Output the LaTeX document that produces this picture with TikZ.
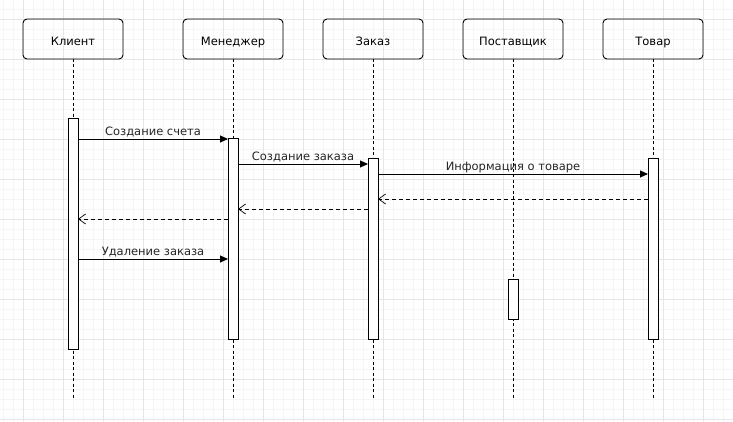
\documentclass[tikz,border=0pt]{standalone}
\usepackage{fontspec}
\setmainfont{DejaVu Sans}
\usetikzlibrary{arrows.meta, positioning}

\definecolor{minorgrid}{HTML}{F5F5F5}
\definecolor{majorgrid}{HTML}{E6E6E6}

\begin{document}
\begin{tikzpicture}[x=1pt, y=-1pt]
	\tikzset{node distance=40pt, font=\fontsize{11.5}{14}\selectfont,
		actor/.style={draw, rounded corners=4pt, minimum width=100pt, minimum height=40pt, outer sep=0pt, line width=0.9pt, text height=13pt, text depth=0pt},
		lifeline/.style={dashed, dash pattern=on 3pt off 2.5pt, line width=0.9pt},
		bar/.style={draw, fill=white, minimum width=10pt, inner sep=0pt, outer sep=0pt, line width=1pt, anchor=north},
		call/.style={-{Triangle[length=8pt, width=7pt]}, line width=0.9pt},
		reply/.style={-{Straight Barb[length=7pt, width=10pt, line width=0.7pt]}, dashed, dash pattern=on 4pt off 3pt, line width=0.8pt},
		msg/.style={midway, anchor=base, yshift=3.5pt, inner sep=0pt, text=black!85}}

	\useasboundingbox (0,0) rectangle (733,422);
	\fill[white] (0,0) rectangle (733,422);
	% grid
	\foreach \x in {3,13,...,733} \draw[minorgrid, line width=0.8pt] (\x,0) -- (\x,422);
	\foreach \y in {9,19,...,419} \draw[minorgrid, line width=0.8pt] (0,\y) -- (733,\y);
	\foreach \x in {23,63,...,703} \draw[majorgrid, line width=0.8pt] (\x,0) -- (\x,422);
	\foreach \y in {19,59,...,419} \draw[majorgrid, line width=0.8pt] (0,\y) -- (733,\y);

	\node[actor] (klient) at (73,39) {Клиент};
	\node[actor, right=60pt of klient] (menedzher) {Менеджер};
	\node[actor, right=of menedzher] (zakaz) {Заказ};
	\node[actor, right=of zakaz] (postavshchik) {Поставщик};
	\node[actor, right=of postavshchik] (tovar) {Товар};

	\coordinate (bottom) at (0,398);
	\foreach \n in {klient, menedzher, zakaz, postavshchik, tovar}
		\draw[lifeline] (\n.south) -- (\n.south |- bottom);

	\node[bar, minimum height=230pt] (aklient) at (klient |- 0,119) {};
	\node[bar, minimum height=200pt] (amenedzher) at (menedzher |- 0,139) {};
	\node[bar, minimum height=180pt] (azakaz) at (zakaz |- 0,159) {};
	\node[bar, minimum height=40pt] (apostavshchik) at (postavshchik |- 0,279) {};
	\node[bar, minimum height=180pt] (atovar) at (tovar |- 0,159) {};

	\draw[call] (aklient.east |- 0,139) -- (amenedzher.west |- 0,139) node[msg] {Создание счета};
	\draw[call] (amenedzher.east |- 0,164) -- (azakaz.west |- 0,164) node[msg] {Создание заказа};
	\draw[call] (azakaz.east |- 0,174) -- (atovar.west |- 0,174) node[msg] {Информация о товаре};
	\draw[reply] (atovar.west |- 0,199) -- (azakaz.east |- 0,199);
	\draw[reply] (azakaz.west |- 0,209) -- (amenedzher.east |- 0,209);
	\draw[reply] (amenedzher.west |- 0,219) -- (aklient.east |- 0,219);
	\draw[call] (aklient.east |- 0,259) -- (amenedzher.west |- 0,259) node[msg] {Удаление заказа};
\end{tikzpicture}
\end{document}
